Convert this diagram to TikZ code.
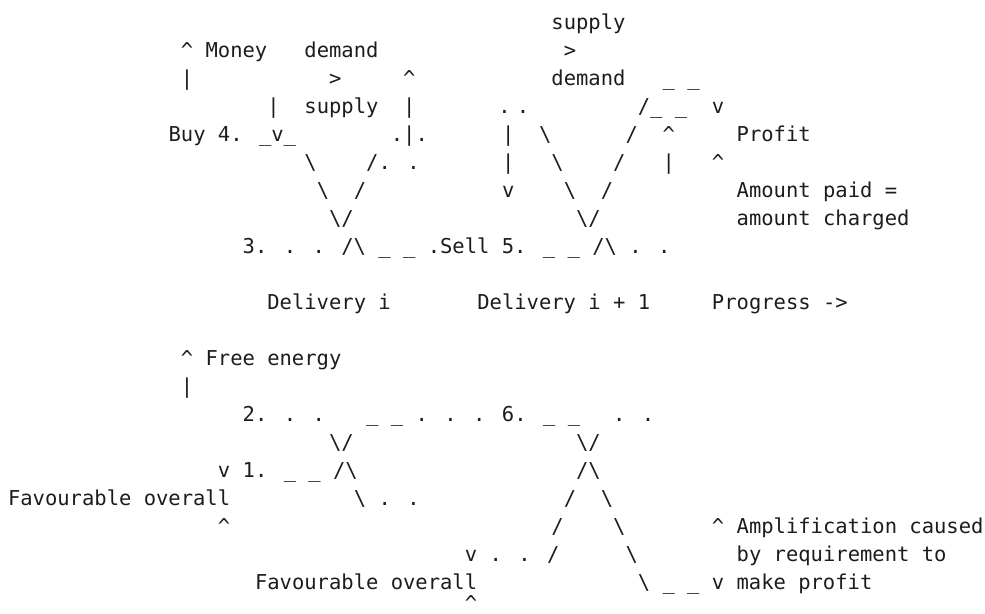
\documentclass[tikz,border=0pt]{standalone}
\usepackage{fontspec}
\newfontfamily\asciifont{DejaVu Sans Mono}
\definecolor{ink}{HTML}{1C1C1C}
\newcommand{\artup}{\textasciicircum}
\newcommand{\artbk}{\textbackslash}

\begin{document}
\begin{tikzpicture}[x=12.35pt, y=-28pt,
  art/.style={font={\asciifont\fontsize{20.5pt}{28pt}\selectfont}, text=ink, anchor=base west, inner sep=0pt}]

\useasboundingbox (0pt,0pt) rectangle (985pt,-613pt);

\begin{scope}[shift={(7.825pt,-29pt)}, every node/.style=art]

\node (supplyTop) at (44,0) {supply};
\node (money) at (14,1) {\artup{} Money};
\node (demandTop) at (24,1) {demand};
\node (moreR) at (45,1) {>};
\node (moneyAxis) at (14,2) {|};
\node (moreL) at (26,2) {>};
\node (upL) at (32,2) {\artup};
\node (demandLow) at (44,2) {demand};
\node (profitLid) at (53,2) {\_ \_};
\node (barL) at (21,3) {|};
\node (supplyLow) at (24,3) {supply};
\node (barR) at (32,3) {|};
\node (dotA) at (39.7,3) {.};
\node (dotB) at (41.2,3) {.};
\node (profitStep) at (51,3) {/\_ \_};
\node (profitDown) at (57,3) {v};

\node (buy) at (13,4) {Buy 4. \_v\_};
\node (peak) at (31,4) {.|.};
\node (barM) at (40,4) {|};
\node (fallA) at (43,4) {\artbk};
\node (riseA) at (50,4) {/};
\node (upM) at (53,4) {\artup};
\node (profit) at (59,4) {Profit};
\node (fallB) at (24,5) {\artbk};
\node (riseB) at (29,5) {/. .};
\node (barN) at (40,5) {|};
\node (fallC) at (44,5) {\artbk};
\node (riseC) at (49,5) {/};
\node (barP) at (53,5) {|};
\node (upP) at (57,5) {\artup};
\node (fallD) at (25,6) {\artbk};
\node (riseD) at (28,6) {/};
\node (downN) at (40,6) {v};
\node (fallE) at (45,6) {\artbk};
\node (riseE) at (48,6) {/};
\node (paid) at (59,6) {Amount paid =};
\node (valleyL) at (26,7) {\artbk/};
\node (valleyR) at (46,7) {\artbk/};
\node (charged) at (59,7) {amount charged};
\node (sell) at (19,8) {3. . . /\artbk{} \_ \_ .Sell 5. \_ \_ /\artbk{} . .};

\node (deliveryA) at (21,10) {Delivery i};
\node (deliveryB) at (38,10) {Delivery i + 1};
\node (progress) at (57,10) {Progress ->};

\node (energy) at (14,12) {\artup{} Free energy};
\node (energyAxis) at (14,13) {|};
\node (stateTwo) at (19,14) {2. . .};
\node (stateSix) at (29,14) {\_ \_ . . . 6. \_ \_};
\node (tail) at (49,14) {. .};
\node (dipL) at (26,15) {\artbk/};
\node (dipR) at (46,15) {\artbk/};
\node (stateOne) at (17,16) {v 1. \_ \_ /\artbk};
\node (humpR) at (46,16) {/\artbk};
\node (favA) at (0,17) {Favourable overall};
\node (slideL) at (28,17) {\artbk{} . .};
\node (humpA) at (45,17) {/};
\node (humpB) at (48,17) {\artbk};
\node (favAup) at (17,18) {\artup};
\node (humpC) at (44,18) {/};
\node (humpD) at (49,18) {\artbk};
\node (amp) at (57,18) {\artup{} Amplification caused};
\node (climb) at (37,19) {v . . /};
\node (humpE) at (50,19) {\artbk};
\node (ampB) at (59,19) {by requirement to};
\node (favB) at (20,20) {Favourable overall};
\node (ampC) at (51,20) {\artbk{} \_ \_ v make profit};
\node (favBup) at (37,20.75) {\artup};

\end{scope}

\end{tikzpicture}
\end{document}
